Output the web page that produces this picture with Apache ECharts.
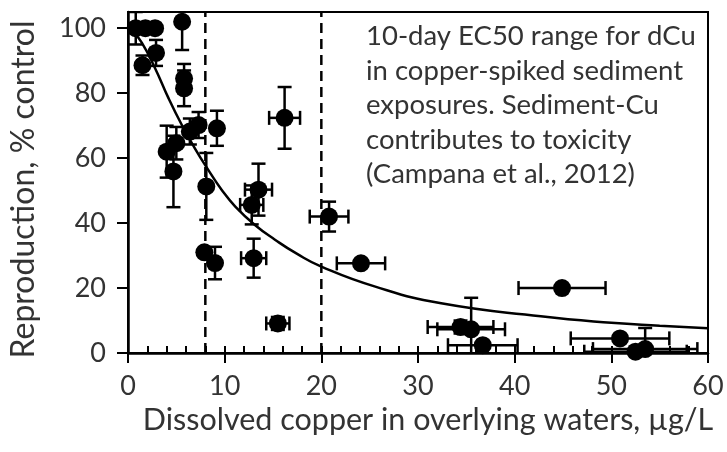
<!DOCTYPE html>
<html>
<head>
<meta charset="utf-8">
<script src="https://cdn.jsdelivr.net/npm/echarts@6/dist/echarts.min.js"></script>
<style>
html,body{margin:0;padding:0;background:#fff;}
#c{width:727px;height:452px;}
</style>
</head>
<body>
<div id="c"></div>
<script>
// Observations: dissolved copper (µg/L) vs reproduction (% control)
var xVals = [0.8, 1.8, 2.8, 1.5, 2.9, 5.6, 5.8, 5.8, 4.0, 5.0, 4.7, 6.4, 7.3, 9.2, 8.1, 13.5, 12.8, 16.2, 20.8, 24.1, 13.0, 15.5, 7.9, 9.0, 44.9, 34.4, 35.5, 36.7, 50.9, 52.5, 53.5];
var yVals = [100, 100, 100, 88.6, 92.4, 102, 84.5, 81.5, 62, 64.6, 55.9, 68.2, 70.2, 69.2, 51.3, 50.3, 45.6, 72.4, 42, 27.6, 29.2, 9.1, 31, 27.7, 20, 8, 7.3, 2.4, 4.5, 0.4, 1.2];
var xErr  = [0, 0, 0, 0, 0, 0, 0, 0, 0, 0, 0, 0, 0, 0, 0, 1.4, 1.2, 1.6, 2.0, 2.5, 1.3, 1.2, 0, 0.5, 4.5, 3.4, 3.5, 3.6, 5.1, 5.3, 5.4];
var yErr  = [5, 0, 0, 3, 4, 8.7, 4.5, 5.5, 8, 5, 11, 4, 4, 5.4, 10.3, 8, 6, 9.5, 4.6, 0, 6, 2, 0, 5, 0, 2, 9.7, 0, 0, 0, 6.5];

// Fitted concentration-response curve
var fitX = [0, 0.5, 1.44, 2.8, 4.2, 5.57, 6.9, 8.3, 9.7, 11.1, 13.1, 15.2, 17.5, 20, 25.5, 32.4, 42.7, 50, 55, 60];
var fitY = [100, 99, 95.5, 87.7, 78.4, 70.2, 63.1, 56.4, 50.2, 45.1, 39.5, 34.9, 30.5, 26.6, 20.5, 15.3, 11.3, 9.3, 8.4, 7.6];

// EC50 range (dashed vertical lines)
var ec50Range = [8, 20];

var xTicks = [0, 10, 20, 30, 40, 50, 60];
var yTicks = [0, 20, 40, 60, 80, 100];

var noteLines = [
  '10-day EC50 range for dCu',
  'in copper-spiked sediment',
  'exposures. Sediment-Cu',
  'contributes to toxicity',
  '(Campana et al., 2012)'
];

var FONT = 'Lato';
var TXT = '#333';

var pts = xVals.map(function (x, i) { return [x, yVals[i], xErr[i], yErr[i]]; });
var fit = fitX.map(function (x, i) { return [x, fitY[i]]; });

var chart = echarts.init(document.getElementById('c'), null, {renderer: 'canvas'});
var series = [];

series.push({
  type: 'line', data: fit, smooth: true, showSymbol: false, symbol: 'none',
  lineStyle: {color: '#000', width: 2.5}, z: 3, silent: true
});

ec50Range.forEach(function (v) {
  series.push({
    type: 'line', data: [[v, 0], [v, 105]], showSymbol: false, symbol: 'none',
    lineStyle: {color: '#000', width: 2.5, type: [10, 6]}, z: 2, silent: true
  });
});

series.push({
  type: 'custom', data: pts, clip: true, z: 4, silent: true,
  renderItem: function (params, api) {
    var x = api.value(0), y = api.value(1), xe = api.value(2), ye = api.value(3);
    var children = [];
    var cap = 7;
    var st = {stroke: '#000', lineWidth: 2.5, fill: null};
    if (ye > 0) {
      var a = api.coord([x, y + ye]), b = api.coord([x, y - ye]);
      children.push({type: 'line', shape: {x1: a[0], y1: a[1], x2: b[0], y2: b[1]}, style: st});
      children.push({type: 'line', shape: {x1: a[0] - cap, y1: a[1], x2: a[0] + cap, y2: a[1]}, style: st});
      children.push({type: 'line', shape: {x1: b[0] - cap, y1: b[1], x2: b[0] + cap, y2: b[1]}, style: st});
    }
    if (xe > 0) {
      var c = api.coord([x - xe, y]), d = api.coord([x + xe, y]);
      children.push({type: 'line', shape: {x1: c[0], y1: c[1], x2: d[0], y2: d[1]}, style: st});
      children.push({type: 'line', shape: {x1: c[0], y1: c[1] - cap, x2: c[0], y2: c[1] + cap}, style: st});
      children.push({type: 'line', shape: {x1: d[0], y1: d[1] - cap, x2: d[0], y2: d[1] + cap}, style: st});
    }
    return {type: 'group', children: children};
  }
});

series.push({
  type: 'scatter', data: pts.map(function (p) { return [p[0], p[1]]; }),
  symbol: 'circle', symbolSize: 18, itemStyle: {color: '#000', opacity: 1}, z: 5, silent: true, clip: true
});

chart.setOption({
  animation: false,
  backgroundColor: '#fff',
  textStyle: {fontFamily: FONT},
  grid: {left: 126, right: 19, top: 12, bottom: 99, show: true, borderColor: '#000', borderWidth: 2, backgroundColor: 'transparent'},
  xAxis: [{
    type: 'value', min: 0, max: 60, interval: 10,
    name: 'Dissolved copper in overlying waters, µg/L', nameLocation: 'middle', nameGap: 43,
    nameTextStyle: {fontFamily: FONT, fontSize: 30.5, color: TXT, padding: [0, 0, 0, 20]},
    axisLine: {show: true, lineStyle: {color: '#000', width: 2.5}},
    axisTick: {show: true, length: 10, lineStyle: {color: '#000', width: 2}},
    axisLabel: {fontFamily: FONT, fontSize: 27, color: TXT, margin: 20, customValues: xTicks},
    splitLine: {show: false}
  }, {
    type: 'value', min: 0, max: 60, interval: 2, position: 'bottom', gridIndex: 0,
    axisLine: {show: false},
    axisTick: {show: true, inside: true, length: 7, lineStyle: {color: '#000', width: 2}},
    axisLabel: {show: false}, splitLine: {show: false}
  }],
  yAxis: {
    type: 'value', min: 0, max: 105, interval: 20,
    name: 'Reproduction, % control', nameLocation: 'middle', nameGap: 88,
    nameTextStyle: {fontFamily: FONT, fontSize: 32, color: TXT, padding: [0, 14, 0, 0]},
    axisLine: {show: true, lineStyle: {color: '#000', width: 2.5}},
    axisTick: {show: true, length: 11, lineStyle: {color: '#000', width: 2}, customValues: yTicks},
    axisLabel: {fontFamily: FONT, fontSize: 27, color: TXT, margin: 22, customValues: yTicks},
    splitLine: {show: false}
  },
  graphic: [{
    type: 'text', left: 366, top: 19, silent: true,
    style: {text: noteLines.join('\n'), fontFamily: FONT, fontSize: 27.5, lineHeight: 34.5, fill: TXT}
  }],
  series: series
});
</script>
</body>
</html>
